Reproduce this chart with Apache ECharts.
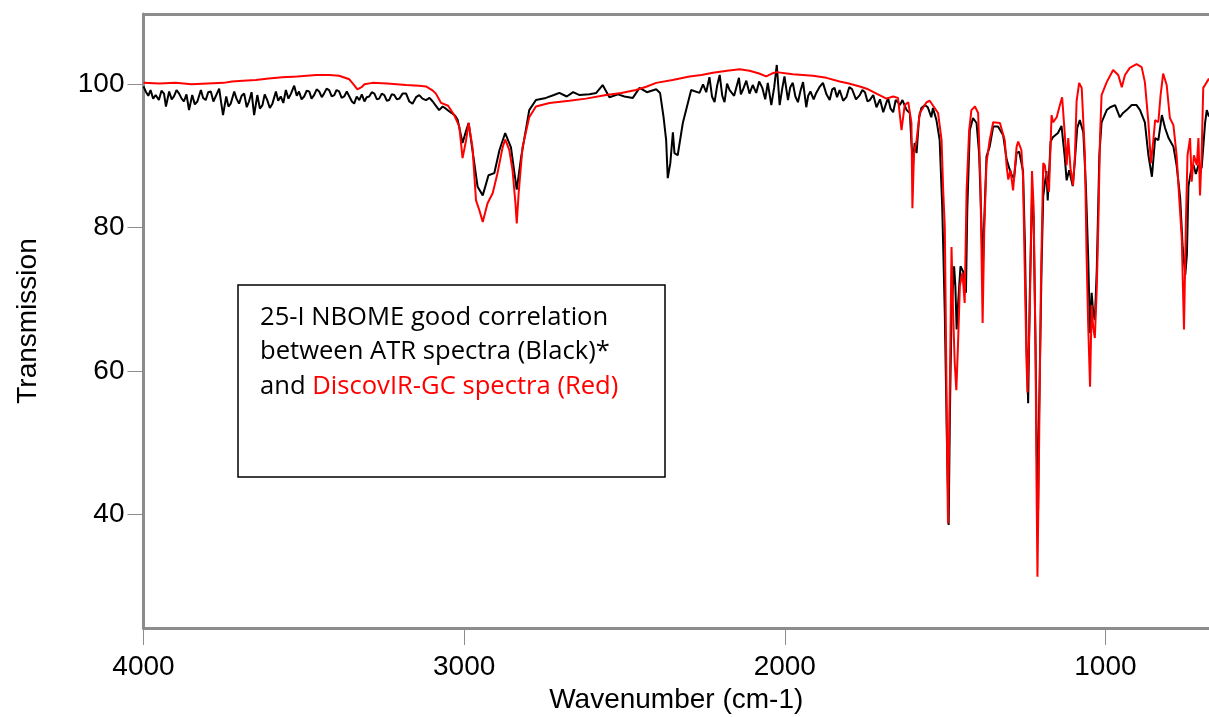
<!DOCTYPE html>
<html>
<head>
<meta charset="utf-8">
<script src="https://cdn.jsdelivr.net/npm/echarts@6/dist/echarts.min.js"></script>
<style>
  html, body { margin: 0; padding: 0; background: #fff; }
  #chart { width: 1209px; height: 717px; }
</style>
</head>
<body>
<div id="chart"></div>
<script>
// ATR spectrum (black), wavenumber / transmission
var atrWn = [4000,3993,3985,3978,3970,3962,3952,3944,3936,3930,3920,3912,3905,3897,3889,3881,3874,3866,3858,3848,3840,3832,3821,3814,3806,3798,3790,3782,3775,3764,3758,3752,
  3742,3735,3728,3717,3710,3702,3694,3686,3678,3671,3663,3655,3645,3637,3629,3622,3614,3606,3598,3587,3580,3572,3564,3556,3548,3540,3530,3522,3515,3507,3499,3491,3483,3476,3468,
  3460,3452,3444,3437,3429,3421,3413,3405,3398,3390,3382,3374,3366,3358,3350,3343,3335,3327,3319,3311,3304,3296,3288,3280,3272,3265,3257,3249,3241,3234,3226,3218,3210,3202,3192,3181,3171,3161,3150,3140,
  3130,3119,3108,3098,3088,3078,3067,3057,3046,3036,3028,3020,3005,2994,2986,2974,2958,2942,2924,2906,2890,2872,2854,2836,2822,2797,
  2776,2745,2720,2703,2680,2660,2640,2609,2588,2568,2547,2520,2500,2474,2453,2430,2401,2389,2378,2370,
  2365,2357,2349,2344,2334,2318,2292,2266,2255,2245,2235,2227,2219,2211,2203,2195,2188,2180,2172,2158,2143,2137,2131,2120,2110,2100,2089,2080,2070,2061,2053,
  2042,2033,2025,2016,2008,2001,1990,1983,1975,1967,1959,1951,1943,1933,1927,1920,1910,1902,1892,1881,1870,1860,1852,1845,1837,1829,1818,1808,1799,1790,1778,1766,1758,1750,1742,1735,
  1724,1714,1703,1693,1685,1678,1670,1662,1654,1647,1641,1633,1620,1610,1605,1600,1595,1589,1581,1574,1563,1554,1543,1538,1527,
  1517,1509,1501,1494,1489,1485,1480,1472,1468,1464,1458,1452,1444,1435,1431,1423,1413,1402,1394,1386,
  1383,1379,1371,1361,1350,1335,1319,1308,1300,1292,1285,1277,1269,1257,1251,1246,1241,1236,1229,1224,
  1218,1214,1210,1207,1199,1194,1184,1180,1171,1164,1148,1137,1127,1121,1113,1102,1095,1088,1080,1069,
  1061,1054,1048,1043,1038,1033,1027,1019,1012,996,985,970,955,945,934,918,903,892,877,866,
  855,845,835,824,814,803,788,778,767,759,751,746,741,733,725,718,710,700,689,684,677];
var atrT = [99.7,99.0,98.4,99.2,98.0,98.5,97.8,99.1,98.7,96.9,99.0,97.9,98.3,99.2,98.7,98.0,97.6,98.6,96.4,98.5,97.2,97.6,99.2,98.1,97.8,98.9,99.0,97.6,98.3,99.4,97.5,95.7,
  98.3,96.9,97.3,99.0,98.0,97.3,98.4,98.7,96.8,97.6,98.9,95.7,98.5,96.6,97.1,98.6,97.8,96.7,97.3,99.0,97.7,98.3,97.4,99.2,98.0,98.7,99.8,98.4,99.0,97.9,98.3,99.1,99.0,98.0,98.5,
  99.3,99.0,98.2,98.7,99.4,99.2,98.3,98.5,99.2,99.0,98.1,98.3,99.0,98.3,97.6,97.3,98.3,97.8,98.6,97.6,98.2,98.3,98.9,98.7,97.9,98.0,98.7,98.5,97.7,97.8,98.6,98.5,97.9,98.0,98.7,98.7,97.6,97.3,98.2,98.5,
  98.0,97.8,98.1,97.6,97.0,96.4,96.9,96.6,96.2,95.9,95.6,95.0,91.8,93.5,94.6,90.8,85.7,84.5,87.3,87.6,90.8,93.2,91.2,85.3,89.9,96.4,
  97.8,98.1,98.5,98.8,98.3,98.9,98.5,98.6,98.8,99.9,98.2,98.6,98.3,98.1,99.5,98.9,99.3,98.8,95.4,92.2,
  86.9,89.0,93.3,90.4,90.1,94.6,99.2,98.8,100.0,98.9,101.0,98.3,97.5,99.8,101.3,98.4,97.5,100.1,99.2,98.4,100.9,98.6,99.2,100.5,98.7,99.9,98.8,100.4,99.5,97.9,100.2,
  97.1,99.6,102.7,97.1,99.4,101.1,97.8,99.6,100.2,98.3,97.5,99.1,100.3,96.8,98.4,99.0,97.9,98.8,99.6,100.2,98.6,97.8,99.3,99.5,98.2,99.2,97.7,98.2,99.6,99.3,97.9,98.5,99.2,98.9,97.6,97.8,
  98.5,96.8,97.9,96.1,97.2,98.1,96.6,96.1,97.8,97.5,97.1,97.8,96.4,96.0,91.8,89.0,91.8,90.4,95.4,96.7,97.1,96.8,95.4,96.7,95.0,
  92.2,82.9,68.1,49.4,38.5,54.1,68.1,74.6,71.8,65.8,70.5,74.6,73.9,70.9,82.3,93.6,95.3,94.6,90.4,79.6,
  73.0,79.6,89.9,91.3,94.1,94.1,92.9,89.5,88.3,87.3,86.9,90.4,90.6,87.9,77.6,63.4,55.5,70.5,84.4,81.4,
  63.4,48.5,40.6,54.1,75.0,84.4,87.9,83.8,92.0,92.6,93.2,94.2,89.9,86.6,88.0,85.8,89.5,93.9,95.0,93.3,
  85.8,76.2,65.3,70.9,68.1,67.1,74.1,90.1,94.7,96.4,96.8,97.1,95.4,96.0,96.4,97.1,97.1,96.4,94.7,90.1,
  87.1,92.5,92.2,95.7,93.9,92.5,91.3,88.7,84.2,77.2,73.4,76.2,85.8,88.0,88.7,87.5,88.7,88.3,94.7,96.4,95.5];

// DiscovIR-GC spectrum (red)
var gcWn = [4000,3950,3900,3850,3800,3750,3724,3690,3650,3610,3567,3520,3462,3420,3390,3358,3345,3333,3320,3311,
  3286,3240,3181,3140,3119,3100,3088,3072,3050,3031,3015,3005,2994,2986,2974,2963,2953,2942,2927,2911,
  2896,2880,2872,2859,2849,2840,2836,2830,2818,2797,2776,2734,2672,2620,2557,2510,2464,2430,2401,2350,
  2297,2260,2224,2180,2141,2110,2080,2058,2040,2026,1975,1912,1870,1829,1800,1766,1740,1714,1683,1662,
  1647,1636,1626,1615,1605,1602,1597,1589,1579,1558,1548,1522,1511,1506,1501,1498,1494,1491,1485,1480,
  1475,1470,1465,1460,1454,1446,1439,1433,1425,1418,1407,1397,1390,1383,1378,1371,1361,1350,1329,1314,
  1308,1303,1296,1288,1277,1272,1262,1257,1251,1246,1243,1236,1229,1224,1218,1215,1212,1207,1201,1196,
  1194,1189,1184,1176,1168,1163,1152,1142,1135,1127,1121,1116,1109,1101,1095,1090,1082,1074,1064,1059,
  1054,1048,1043,1038,1033,1027,1022,1017,1012,996,976,960,949,939,924,903,887,877,866,858,
  851,845,835,828,820,809,799,788,778,770,762,755,749,744,736,731,724,715,710,705,
  700,695,684,677];
var gcT = [100.2,100.1,100.2,100.0,100.1,100.2,100.4,100.5,100.6,100.8,101.0,101.1,101.3,101.3,101.2,100.7,100.0,99.3,99.6,100.0,
  100.2,100.1,99.9,99.8,99.7,99.2,98.7,97.4,97.0,95.7,94.1,89.7,92.2,94.6,91.2,83.8,82.5,80.8,83.4,84.8,
  87.6,91.2,92.3,90.8,88.0,83.4,80.6,84.8,91.2,95.4,96.9,97.4,97.7,98.0,98.5,98.8,99.2,99.7,100.2,100.6,
  101.1,101.3,101.6,101.9,102.1,101.9,101.5,101.1,101.5,101.7,101.4,101.2,100.9,100.4,100.1,99.7,99.3,98.7,98.0,98.3,
  98.1,93.6,97.1,97.5,94.6,82.7,90.4,92.2,96.0,97.5,97.7,96.0,92.2,85.2,80.1,68.1,49.4,38.7,58.7,77.3,
  68.1,61.1,57.3,63.4,71.8,73.7,69.5,85.2,93.6,96.4,96.9,96.0,86.6,66.7,79.6,89.0,92.2,94.7,94.6,92.2,
  88.5,86.7,88.0,85.2,91.3,92.0,90.8,87.1,72.7,61.1,57.0,68.1,87.9,82.9,63.4,44.8,31.3,49.4,72.7,84.4,
  89.0,88.7,86.9,85.0,95.7,94.7,95.4,97.1,98.2,93.2,88.7,92.5,88.3,85.9,90.1,97.6,100.2,99.5,90.1,76.6,
  66.8,57.8,69.2,66.0,64.6,71.6,80.8,92.5,98.5,100.3,102.0,101.3,99.6,101.3,102.3,102.8,102.4,100.3,94.7,89.0,
  92.0,95.0,94.7,98.5,101.5,99.9,95.3,94.3,90.1,84.2,78.6,65.8,80.8,90.1,92.5,86.4,90.1,88.7,92.5,84.5,
  90.1,99.5,100.3,100.8];

var xTicks = [1000, 2000, 3000, 4000];
var yTicks = [40, 60, 80, 100];

function pairs(xs, ys) {
  var out = [];
  for (var i = 0; i < xs.length; i++) out.push([xs[i], ys[i]]);
  return out;
}

var myChart = echarts.init(document.getElementById('chart'));
var axisGray = '#8c8c8c';
var labelFont = { color: '#000', fontFamily: 'Liberation Sans, Arial, sans-serif', fontSize: 28 };

var option = {
  animation: false,
  backgroundColor: '#fff',
  grid: { left: 143.5, right: 0, top: 14, bottom: 89, outerBoundsMode: 'none', containLabel: false },
  xAxis: [
    {
      type: 'value',
      inverse: true,
      min: 677,
      max: 4000,
      name: 'Wavenumber (cm-1)',
      nameLocation: 'middle',
      nameGap: 58,
      nameTextStyle: labelFont,
      axisLine: { show: true, lineStyle: { color: axisGray, width: 3 } },
      axisTick: { show: true, length: 17, customValues: xTicks, lineStyle: { color: axisGray, width: 1 } },
      axisLabel: Object.assign({ margin: 25, customValues: xTicks, formatter: function (v) { return String(v); } }, labelFont),
      splitLine: { show: false }
    },
    {
      // top frame line only
      type: 'value',
      position: 'top',
      inverse: true,
      min: 677,
      max: 4000,
      axisLine: { show: true, onZero: false, lineStyle: { color: axisGray, width: 3 } },
      axisTick: { show: false },
      axisLabel: { show: false },
      splitLine: { show: false }
    }
  ],
  yAxis: {
    type: 'value',
    min: 24.13,
    max: 109.81,
    name: 'Transmission',
    nameLocation: 'middle',
    nameGap: 101,
    nameTextStyle: labelFont,
    axisLine: { show: true, lineStyle: { color: axisGray, width: 3 } },
    axisTick: { show: true, length: 16, customValues: yTicks, lineStyle: { color: axisGray, width: 1 } },
    axisLabel: Object.assign({ margin: 19, customValues: yTicks }, labelFont),
    splitLine: { show: false }
  },
  series: [
    {
      name: 'ATR',
      type: 'line',
      data: pairs(atrWn, atrT),
      showSymbol: false,
      symbol: 'none',
      lineStyle: { color: '#000', width: 2 },
      z: 2
    },
    {
      name: 'DiscovIR-GC',
      type: 'line',
      data: pairs(gcWn, gcT),
      showSymbol: false,
      symbol: 'none',
      lineStyle: { color: '#ff0000', width: 2 },
      z: 3
    }
  ],
  graphic: [
    {
      type: 'rect',
      z: 10,
      shape: { x: 238, y: 285, width: 427, height: 192 },
      style: { fill: '#fff', stroke: '#000', lineWidth: 1.5 }
    },
    {
      type: 'text',
      z: 11,
      x: 260,
      y: 300,
      style: {
        text: '25-I NBOME good correlation\nbetween ATR spectra (Black)*\nand {r|DiscovIR-GC spectra (Red)}',
        fill: '#000',
        font: '25.6px "Open Sans", sans-serif',
        lineHeight: 34.5,
        verticalAlign: 'top',
        rich: {
          r: { fill: '#ff0000', font: '25.6px "Open Sans", sans-serif', lineHeight: 34.5 }
        }
      }
    }
  ]
};

myChart.setOption(option);
</script>
</body>
</html>
